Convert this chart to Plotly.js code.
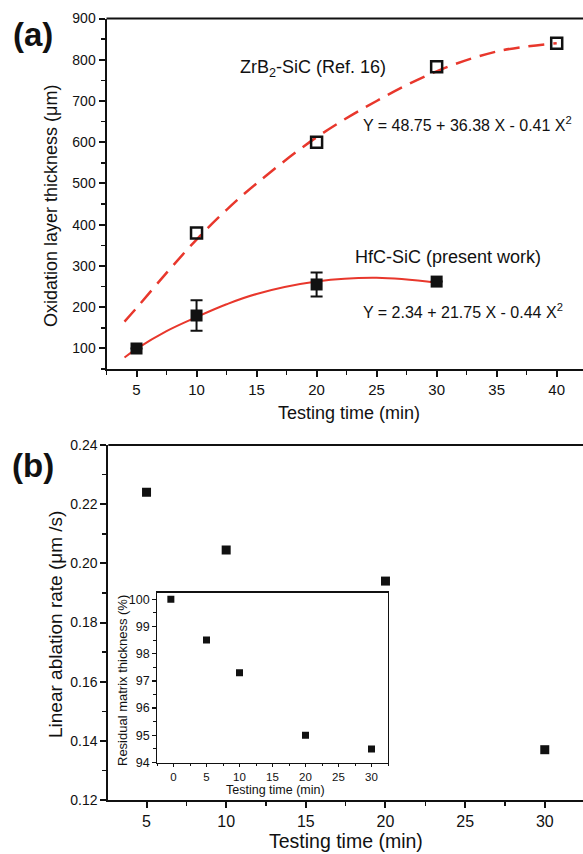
<!DOCTYPE html>
<html>
<head>
<meta charset="utf-8">
<script src="https://cdn.plot.ly/plotly-3.0.1.min.js"></script>
<style>html,body{margin:0;padding:0;background:#fff;overflow:hidden;}#chart{width:583px;height:854px;}</style>
</head>
<body>
<div id="chart"></div>
<script>
// ---- Panel (a): oxidation layer thickness ----
const zrbTime = [10, 20, 30, 40];
const zrbThick = [380, 600, 783, 840];
const hfcTime = [5, 10, 20, 30];
const hfcThick = [100, 180, 255, 262];
const hfcErr = [null, 37, 29, null];
// fitted curves
const zrbFitTime = [4, 5, 7.5, 10, 12.5, 15, 20, 25, 30, 35, 40];
const zrbFitThick = [165, 198, 283, 364, 436, 500, 612, 700, 772, 820, 840];
const hfcFitTime = [4, 5, 7.5, 10, 12.5, 15, 20, 25, 30];
const hfcFitThick = [78, 99, 142, 176, 207, 232, 262, 271, 259];

// ---- Panel (b): linear ablation rate ----
const ablTime = [5, 10, 20, 30];
const ablRate = [0.224, 0.2045, 0.194, 0.137];

// ---- Inset: residual matrix thickness ----
const insTime = [-0.4, 5, 10, 20, 30];
const insResidual = [100, 98.5, 97.3, 95.0, 94.5];

const W = 583, H = 854;
const FONT = 'Liberation Sans, Arial, Helvetica, sans-serif';
const RED = '#e8372c';
const INK = '#111111';

function px(x) { return x / W; }
function py(y) { return (H - y) / H; }

const traces = [
  {x: zrbFitTime, y: zrbFitThick, xaxis: 'x', yaxis: 'y', mode: 'lines', line: {color: RED, width: 2.5, dash: '16px,9px', shape: 'spline'}, hoverinfo: 'skip'},
  {x: hfcFitTime, y: hfcFitThick, xaxis: 'x', yaxis: 'y', mode: 'lines', line: {color: RED, width: 2, shape: 'spline'}, hoverinfo: 'skip'},
  {x: zrbTime, y: zrbThick, xaxis: 'x', yaxis: 'y', mode: 'markers', name: 'ZrB2-SiC',
   marker: {symbol: 'square-open', size: 11, color: INK, line: {width: 2.5, color: INK}}},
  {x: hfcTime, y: hfcThick, xaxis: 'x', yaxis: 'y', mode: 'markers', name: 'HfC-SiC',
   error_y: {type: 'data', array: hfcErr, visible: true, color: INK, thickness: 2, width: 6},
   marker: {symbol: 'square', size: 12, color: INK}},
  {x: ablTime, y: ablRate, xaxis: 'x2', yaxis: 'y2', mode: 'markers',
   marker: {symbol: 'square', size: 9, color: INK}},
  {x: insTime, y: insResidual, xaxis: 'x3', yaxis: 'y3', mode: 'markers',
   marker: {symbol: 'square', size: 7, color: INK}}
];

function axisBase(extra) {
  return Object.assign({
    showline: true, linecolor: INK, linewidth: 2, showgrid: false, zeroline: false,
    ticks: 'outside', ticklen: 6, tickwidth: 2, tickcolor: INK,
    tickfont: {family: FONT, size: 15, color: INK},
    minor: {ticks: 'outside', ticklen: 4, tickwidth: 1.5, tickcolor: INK, showgrid: false},
    fixedrange: true
  }, extra);
}

const layout = {
  width: W, height: H,
  margin: {l: 0, r: 0, t: 0, b: 0},
  paper_bgcolor: '#ffffff', plot_bgcolor: '#ffffff',
  showlegend: false,
  font: {family: FONT, color: INK},
  xaxis: axisBase({domain: [px(106.5), 1], anchor: 'y', range: [2.5, 42.19], tick0: 5, dtick: 5,
    minor: {ticks: 'outside', ticklen: 4, tickwidth: 1.5, tickcolor: INK, dtick: 2.5, tick0: 2.5}}),
  yaxis: axisBase({domain: [py(369), py(18.5)], anchor: 'x', range: [50, 900], tick0: 100, dtick: 100,
    tickfont: {family: FONT, size: 14, color: INK},
    minor: {ticks: 'outside', ticklen: 4, tickwidth: 1.5, tickcolor: INK, dtick: 50, tick0: 50}}),
  xaxis2: axisBase({domain: [px(108.3), 1], anchor: 'y2', range: [2.6, 32.4], tick0: 5, dtick: 5,
    tickfont: {family: FONT, size: 16, color: INK},
    minor: {ticks: 'outside', ticklen: 4, tickwidth: 1.5, tickcolor: INK, dtick: 2.5, tick0: 2.5}}),
  yaxis2: axisBase({domain: [py(800), py(445)], anchor: 'x2', range: [0.12, 0.24], tick0: 0.12, dtick: 0.02, tickformat: '.2f',
    tickfont: {family: FONT, size: 14, color: INK},
    minor: {ticks: 'outside', ticklen: 4, tickwidth: 1.5, tickcolor: INK, dtick: 0.01, tick0: 0.12}}),
  xaxis3: axisBase({domain: [px(157), px(388)], anchor: 'y3', range: [-2.5, 32.5], tick0: 0, dtick: 5,
    mirror: true, linewidth: 1.3, ticklen: 3, tickwidth: 1.2,
    tickfont: {family: FONT, size: 11.5, color: INK},
    minor: {ticks: 'outside', ticklen: 2.5, tickwidth: 1, tickcolor: INK, dtick: 2.5, tick0: 0}}),
  yaxis3: axisBase({domain: [py(762.5), py(592.5)], anchor: 'x3', range: [94, 100.25], tick0: 94, dtick: 1,
    mirror: true, linewidth: 1.3, ticklen: 3.5, tickwidth: 1.2,
    tickfont: {family: FONT, size: 12.5, color: INK},
    minor: {ticks: 'outside', ticklen: 2.5, tickwidth: 1, tickcolor: INK, dtick: 0.5, tick0: 94}}),
  shapes: [
    {type: 'line', xref: 'paper', yref: 'paper', x0: px(106.5), x1: 1, y0: py(18.5), y1: py(18.5), line: {color: INK, width: 2}},
    {type: 'line', xref: 'paper', yref: 'paper', x0: px(108.3), x1: 1, y0: py(445), y1: py(445), line: {color: INK, width: 2}}
  ],
  annotations: [
    {text: '(a)', xref: 'paper', yref: 'paper', x: px(33), y: py(34), xanchor: 'center', yanchor: 'middle', showarrow: false,
     font: {family: FONT, size: 33, color: INK, weight: 'bold'}},
    {text: '(b)', xref: 'paper', yref: 'paper', x: px(33), y: py(466), xanchor: 'center', yanchor: 'middle', showarrow: false,
     font: {family: FONT, size: 33, color: INK, weight: 'bold'}},
    {text: 'ZrB<sub>2</sub>-SiC (Ref. 16)', xref: 'paper', yref: 'paper', x: px(238), y: py(69), xanchor: 'left', yanchor: 'middle', showarrow: false,
     font: {family: FONT, size: 18, color: INK}},
    {text: 'Y = 48.75 + 36.38 X - 0.41 X<sup>2</sup>', xref: 'paper', yref: 'paper', x: px(361), y: py(124), xanchor: 'left', yanchor: 'middle', showarrow: false,
     font: {family: FONT, size: 16, color: INK}},
    {text: 'HfC-SiC (present work)', xref: 'paper', yref: 'paper', x: px(353), y: py(257), xanchor: 'left', yanchor: 'middle', showarrow: false,
     font: {family: FONT, size: 18, color: INK}},
    {text: 'Y = 2.34 + 21.75 X - 0.44 X<sup>2</sup>', xref: 'paper', yref: 'paper', x: px(361), y: py(311), xanchor: 'left', yanchor: 'middle', showarrow: false,
     font: {family: FONT, size: 16, color: INK}},
    // axis titles
    {text: 'Testing time (min)', xref: 'paper', yref: 'paper', x: px(348.5), y: py(413), xanchor: 'center', yanchor: 'middle', showarrow: false,
     font: {family: FONT, size: 18, color: INK}},
    {text: 'Oxidation layer thickness (\u03bcm)', xref: 'paper', yref: 'paper', x: px(51), y: py(206), xanchor: 'center', yanchor: 'middle', textangle: -90, showarrow: false,
     font: {family: FONT, size: 18, color: INK}},
    {text: 'Testing time (min)', xref: 'paper', yref: 'paper', x: px(346), y: py(841), xanchor: 'center', yanchor: 'middle', showarrow: false,
     font: {family: FONT, size: 19.5, color: INK}},
    {text: 'Linear ablation rate (\u03bcm /s)', xref: 'paper', yref: 'paper', x: px(55), y: py(625), xanchor: 'center', yanchor: 'middle', textangle: -90, showarrow: false,
     font: {family: FONT, size: 19, color: INK}},
    {text: 'Testing time (min)', xref: 'paper', yref: 'paper', x: px(275), y: py(790), xanchor: 'center', yanchor: 'middle', showarrow: false,
     font: {family: FONT, size: 12.5, color: INK}},
    {text: 'Residual matrix thickness (%)', xref: 'paper', yref: 'paper', x: px(122), y: py(681), xanchor: 'center', yanchor: 'middle', textangle: -90, showarrow: false,
     font: {family: FONT, size: 13, color: INK}}
  ]
};

Plotly.newPlot('chart', traces, layout, {staticPlot: true, displayModeBar: false});
</script>
</body>
</html>
